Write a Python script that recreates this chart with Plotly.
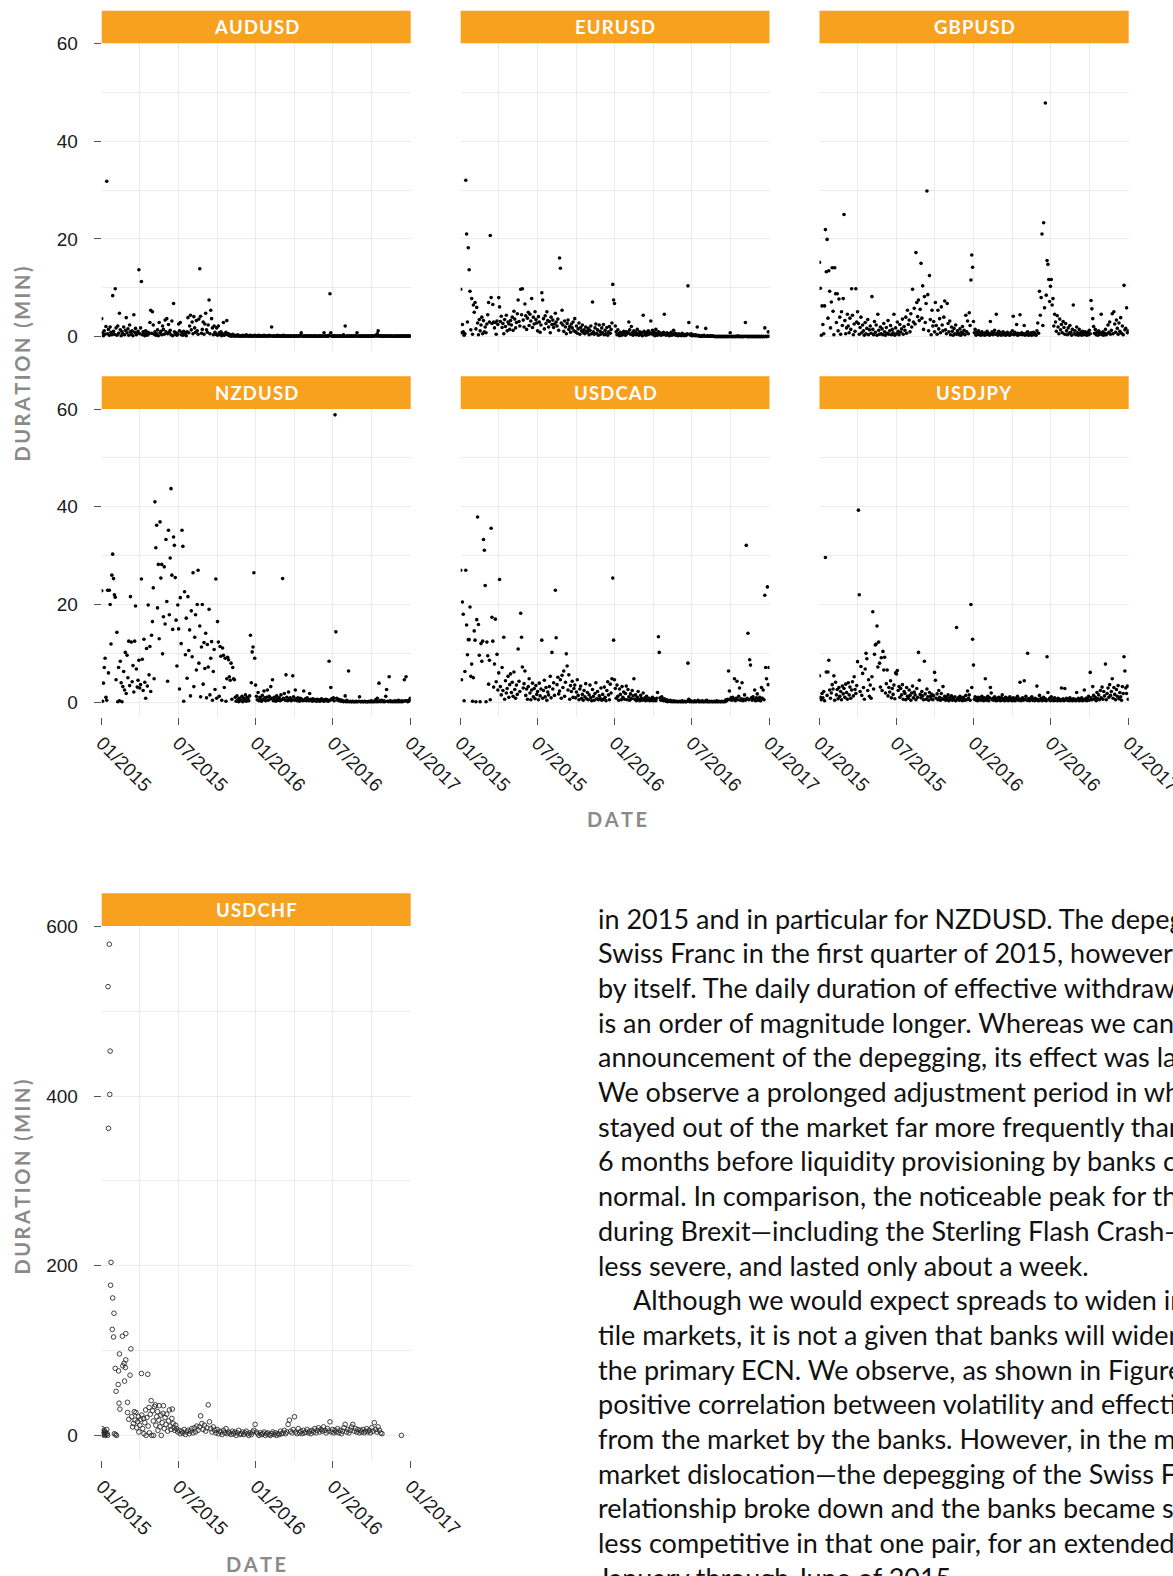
import datetime as dt
import plotly.graph_objects as go

W, H = 1173, 1576
START = dt.date(2015, 1, 1)
STEP_DAYS = 2  # one value every 2 days, from 2015-01-01

# ---------------- data (duration in minutes) ----------------
AUDUSD = [
    3.7, 0.8, 0.2, 1.2, 0.5, 2.1, 31.8, 0.6, 1.5, 0.3, 2.0, 0.9, 0.4, 8.4, 1.1,
    0.5, 9.8, 1.8, 0.3, 2.2, 0.7, 4.8, 1.4, 0.2, 1.0, 0.6, 2.0, 0.4, 1.3, 3.9,
    0.8, 1.6, 0.3, 2.4, 1.0, 0.5, 1.2, 0.2, 4.5, 0.9, 1.7, 0.4, 0.7, 1.1, 13.7,
    0.6, 1.8, 11.3, 0.4, 1.0, 0.5, 0.2, 1.2, 0.8, 0.3, 0.9, 0.6, 2.9, 5.4, 0.7,
    5.1, 2.4, 0.5, 1.0, 0.3, 0.6, 1.4, 0.2, 2.9, 0.8, 1.1, 0.4, 2.2, 1.5, 0.5,
    3.4, 1.0, 3.7, 0.6, 2.5, 0.9, 1.3, 0.4, 3.2, 0.2, 6.8, 1.0, 0.5, 0.8, 0.3,
    0.6, 2.6, 1.2, 2.9, 0.4, 0.9, 0.3, 1.1, 0.5, 0.7, 0.2, 1.0, 3.9, 0.8, 2.2,
    4.4, 1.4, 3.0, 0.6, 4.1, 1.8, 0.9, 3.3, 1.2, 0.5, 3.6, 13.9, 4.2, 0.7, 1.5,
    3.0, 0.5, 2.6, 4.8, 1.4, 0.9, 2.4, 7.5, 0.6, 5.4, 3.7, 1.8, 0.4, 2.2, 0.9,
    0.5, 1.8, 0.3, 2.2, 0.8, 0.4, 1.0, 0.2, 0.6, 2.9, 0.3, 0.5, 0.9, 3.3, 0.4,
    0.6, 0.2, 0.4, 0.1, 0.3, 0.5, 0.1, 0.2, 0.3, 0.1, 0.2, 0.4, 0.1, 0.2, 0.1,
    0.2, 0.1, 0.3, 0.1, 0.2, 0.1, 0.4, 0.2, 0.1, 0.2, 0.1, 0.3, 0.1, 0.2, 0.1,
    0.1, 0.3, 0.2, 0.1, 0.2, 0.1, 0.3, 0.1, 0.2, 0.1, 0.2, 0.1, 0.3, 0.1, 0.2,
    0.1, 0.2, 0.1, 0.3, 0.1, 0.2, 2.0, 0.1, 0.2, 0.1, 0.1, 0.2, 0.1, 0.3, 0.1,
    0.2, 0.1, 0.1, 0.2, 0.1, 0.3, 0.1, 0.1, 0.2, 0.1, 0.1, 0.2, 0.1, 0.1, 0.2,
    0.1, 0.1, 0.2, 0.1, 0.1, 0.2, 0.1, 0.1, 0.2, 0.1, 0.3, 0.8, 0.1, 0.1, 0.2,
    0.1, 0.2, 0.1, 0.1, 0.2, 0.1, 0.1, 0.2, 0.1, 0.1, 0.2, 0.1, 0.1, 0.2, 0.1,
    0.1, 0.1, 0.2, 0.1, 0.1, 0.2, 0.1, 0.1, 0.8, 0.2, 0.1, 0.1, 0.2, 0.1, 0.3,
    8.8, 0.8, 0.1, 0.2, 0.1, 0.1, 0.2, 0.1, 0.1, 0.2, 0.1, 0.1, 0.2, 0.1, 0.1,
    0.1, 0.4, 0.1, 2.2, 0.1, 0.2, 0.1, 0.1, 0.2, 0.1, 0.1, 0.2, 0.1, 0.1, 0.2,
    0.1, 0.2, 0.8, 0.1, 0.1, 0.2, 0.1, 0.1, 0.2, 0.1, 0.1, 0.2, 0.1, 0.1, 0.2,
    0.1, 0.1, 0.2, 0.1, 0.1, 0.2, 0.1, 0.1, 0.2, 0.3, 0.1, 0.6, 1.2, 0.1, 0.2,
    0.1, 0.2, 0.1, 0.1, 0.2, 0.1, 0.1, 0.2, 0.1, 0.1, 0.2, 0.1, 0.1, 0.2, 0.1,
    0.1, 0.1, 0.2, 0.1, 0.1, 0.2, 0.1, 0.1, 0.2, 0.1, 0.1, 0.2, 0.1, 0.1, 0.2,
    0.1, 0.2, 0.1, 0.1, 0.2, 0.1,
]

EURUSD = [
    9.7, 0.8, 2.5, 1.0, 0.3, 0.6, 32.0, 21.0, 3.0, 18.2, 13.7, 9.3, 1.4, 7.8, 0.5,
    6.5, 5.0, 7.0, 1.6, 6.0, 2.8, 0.4, 3.5, 1.2, 2.4, 4.0, 0.6, 3.3, 1.0, 2.0,
    0.8, 2.6, 4.5, 7.0, 3.0, 20.7, 8.0, 2.7, 6.6, 3.0, 1.8, 2.9, 0.5, 3.2, 2.5,
    8.0, 6.1, 3.1, 4.2, 1.9, 2.7, 0.6, 3.5, 2.1, 4.4, 1.2, 3.0, 2.6, 1.5, 3.3,
    2.4, 4.0, 1.3, 5.2, 3.6, 1.8, 2.9, 4.7, 7.5, 3.1, 2.2, 9.7, 4.5, 9.8, 3.4,
    2.0, 6.7, 4.3, 1.5, 3.8, 5.0, 2.3, 4.6, 3.2, 7.8, 1.9, 4.0, 2.6, 5.1, 3.5,
    2.8, 1.2, 4.1, 3.0, 0.9, 2.4, 9.0, 7.5, 3.7, 1.6, 4.3, 2.7, 5.1, 3.3, 2.0,
    3.1, 0.8, 4.0, 2.5, 3.4, 1.9, 2.6, 4.8, 3.0, 2.2, 3.6, 1.3, 16.1, 14.0, 2.8,
    5.4, 2.4, 1.1, 3.2, 2.0, 0.6, 2.7, 3.4, 1.5, 2.1, 0.9, 2.6, 1.8, 3.0, 1.2,
    3.7, 1.0, 2.2, 0.7, 1.6, 2.8, 0.5, 1.9, 1.2, 2.4, 0.8, 1.4, 0.6, 2.0, 1.1,
    0.9, 1.7, 0.4, 1.3, 2.2, 0.6, 7.1, 1.0, 0.5, 1.8, 2.6, 0.7, 1.4, 0.3, 2.4,
    1.1, 0.5, 1.8, 0.8, 2.5, 0.4, 1.3, 0.6, 1.9, 0.3, 1.0, 2.1, 0.7, 1.5, 2.8,
    10.7, 7.5, 6.8, 2.2, 1.0, 0.4, 1.4, 0.6, 0.2, 0.9, 0.3, 0.7, 0.4, 1.1, 0.5,
    0.3, 1.0, 0.6, 0.9, 3.0, 1.4, 0.5, 2.1, 0.8, 0.3, 1.2, 0.6, 0.9, 0.4, 1.5,
    0.7, 0.3, 1.0, 0.5, 0.8, 0.2, 4.4, 1.1, 0.6, 0.3, 0.9, 0.4, 1.2, 0.5, 0.8,
    3.2, 0.6, 1.3, 0.4, 0.9, 0.2, 1.5, 0.7, 0.3, 1.0, 0.5, 0.8, 0.3, 0.6, 0.4,
    0.9, 4.6, 0.5, 0.3, 0.8, 0.4, 0.6, 0.2, 0.5, 0.9, 0.3, 0.6, 1.3, 0.4, 0.7,
    0.3, 0.5, 0.2, 0.6, 0.3, 0.4, 0.2, 0.7, 0.3, 0.5, 0.2, 0.4, 0.3, 0.6, 10.4,
    2.9, 0.5, 0.3, 0.6, 0.2, 0.4, 0.3, 0.2, 0.4, 0.2, 2.0, 0.3, 0.1, 0.2, 0.1,
    0.1, 0.2, 0.1, 0.3, 0.1, 1.7, 0.1, 0.2, 0.1, 0.1, 0.2, 0.1, 0.1, 0.2, 0.1,
    0.1, 0.0, 0.1, 0.0, 0.1, 0.0, 0.1, 0.0, 0.1, 0.0, 0.1, 0.0, 0.1, 0.0, 0.1,
    0.0, 0.1, 0.0, 0.1, 0.8, 0.0, 0.1, 0.0, 0.1, 0.0, 0.1, 0.0, 0.1, 0.2, 0.0,
    0.1, 0.0, 0.1, 0.0, 0.1, 0.0, 0.1, 2.9, 0.1, 0.0, 0.1, 0.0, 0.1, 0.0, 0.1,
    0.0, 0.1, 0.0, 0.1, 0.0, 0.1, 0.0, 0.1, 0.0, 0.1, 0.0, 0.1, 0.0, 0.1, 0.0,
    1.8, 0.1, 0.0, 0.1, 1.0, 0.1,
]

GBPUSD = [
    15.2, 9.9, 0.3, 6.3, 2.5, 0.6, 6.3, 21.9, 13.3, 19.9, 3.8, 13.5, 9.3, 1.8, 7.1,
    14.1, 5.2, 0.4, 14.1, 8.8, 2.9, 8.8, 1.2, 7.7, 4.0, 0.5, 5.1, 2.3, 7.8, 25.0,
    3.3, 0.6, 1.8, 4.6, 2.2, 0.8, 3.8, 1.5, 9.8, 4.4, 0.4, 2.6, 1.1, 9.8, 3.0,
    5.1, 2.7, 0.5, 1.9, 4.0, 0.8, 2.4, 1.2, 0.3, 2.9, 0.6, 1.7, 3.5, 0.4, 1.4,
    2.2, 0.7, 8.2, 1.5, 0.4, 3.1, 0.9, 2.4, 0.3, 4.6, 1.3, 0.5, 2.0, 0.6, 1.6,
    0.4, 2.7, 1.0, 0.3, 1.9, 0.7, 3.3, 0.5, 1.2, 2.3, 0.4, 1.5, 0.8, 4.6, 0.3,
    1.8, 0.6, 3.0, 1.1, 0.4, 2.5, 0.9, 1.6, 3.6, 0.5, 2.1, 1.3, 4.0, 0.7, 5.4,
    2.5, 3.4, 1.0, 4.7, 2.0, 9.7, 3.0, 5.8, 2.6, 17.2, 7.0, 4.1, 7.5, 3.3, 5.6,
    15.0, 3.8, 10.4, 1.5, 8.2, 2.9, 6.8, 29.8, 8.6, 1.2, 12.5, 3.5, 0.4, 5.4, 2.2,
    3.1, 1.0, 7.0, 2.3, 0.5, 5.4, 1.6, 3.7, 0.8, 6.1, 2.4, 1.2, 4.0, 7.3, 1.4,
    0.6, 6.8, 2.7, 1.0, 3.2, 0.4, 2.0, 1.1, 0.3, 1.7, 0.6, 2.4, 0.5, 1.2, 0.8,
    0.4, 1.6, 0.3, 0.9, 2.1, 0.6, 1.3, 0.4, 4.4, 1.0, 3.2, 0.6, 4.9, 2.3, 11.6,
    16.7, 14.2, 3.1, 0.8, 1.5, 0.3, 0.9, 0.5, 1.2, 0.4, 0.7, 0.3, 1.0, 0.5, 0.6,
    0.3, 0.8, 0.4, 1.1, 0.5, 0.7, 0.3, 3.1, 0.6, 1.0, 0.4, 0.8, 1.3, 0.5, 4.6,
    0.7, 0.3, 1.1, 0.5, 0.8, 0.3, 0.6, 1.0, 0.4, 0.7, 0.3, 0.5, 0.9, 0.4, 0.6,
    0.3, 0.8, 0.5, 1.2, 4.2, 0.4, 0.9, 0.6, 2.5, 0.3, 0.7, 0.4, 4.5, 0.5, 0.8,
    0.4, 0.6, 2.3, 0.3, 0.7, 0.5, 1.0, 0.3, 0.6, 0.4, 0.8, 0.3, 0.5, 0.9, 0.4,
    0.6, 0.3, 1.2, 2.8, 0.7, 9.3, 4.4, 8.0, 21.0, 2.3, 23.3, 5.9, 47.8, 8.5, 15.6,
    14.8, 11.7, 7.2, 10.3, 11.7, 6.5, 7.8, 2.2, 4.6, 3.0, 1.1, 4.3, 2.0, 0.6, 3.6,
    1.4, 2.5, 0.8, 3.1, 1.9, 0.5, 2.7, 1.2, 0.4, 1.8, 0.7, 2.3, 0.9, 0.3, 1.5,
    6.5, 0.6, 1.2, 0.4, 2.0, 0.8, 0.3, 1.5, 0.5, 0.9, 0.3, 1.1, 0.6, 0.4, 1.0,
    0.5, 0.3, 0.9, 0.4, 1.3, 0.6, 7.4, 5.7, 3.7, 2.1, 0.7, 1.5, 0.4, 0.9, 0.3,
    1.2, 0.5, 0.8, 4.6, 0.4, 1.0, 0.3, 0.7, 1.5, 0.4, 0.6, 2.4, 0.9, 3.0, 0.5,
    1.3, 4.7, 0.6, 5.1, 2.6, 0.9, 3.4, 1.7, 0.5, 2.8, 1.1, 3.9, 0.7, 2.2, 0.4,
    10.5, 1.4, 1.7, 5.9, 0.8, 1.2,
]

NZDUSD = [
    22.8, 0.2, 3.9, 7.1, 9.0, 1.0, 0.4, 22.9, 6.0, 22.9, 20.0, 11.9, 26.0, 30.3, 25.3,
    22.0, 21.5, 4.6, 14.3, 0.1, 7.1, 0.3, 8.4, 4.0, 0.1, 3.2, 6.3, 2.5, 10.2, 1.8,
    9.6, 5.0, 12.5, 3.4, 21.6, 12.3, 4.2, 7.5, 2.1, 12.5, 19.7, 6.8, 3.1, 4.5, 8.6,
    2.9, 3.6, 25.2, 8.8, 2.4, 12.9, 4.1, 0.8, 11.0, 3.3, 19.9, 5.6, 11.4, 2.2, 13.7,
    16.5, 23.4, 4.8, 41.0, 31.6, 36.2, 19.3, 28.2, 13.0, 36.9, 25.4, 28.2, 9.9, 17.5, 27.7,
    16.0, 33.3, 20.6, 4.3, 35.2, 17.9, 29.5, 43.7, 26.0, 14.9, 33.8, 32.1, 25.5, 16.8, 7.4,
    19.9, 15.0, 2.7, 21.4, 12.0, 35.2, 31.9, 0.2, 22.6, 9.7, 17.2, 4.9, 21.6, 10.6, 14.8,
    1.3, 18.7, 9.3, 26.5, 3.2, 13.3, 17.9, 6.6, 20.0, 27.0, 8.0, 15.6, 1.1, 11.3, 20.0,
    3.7, 12.2, 6.9, 14.1, 0.9, 11.8, 7.2, 19.0, 1.5, 9.0, 12.4, 0.4, 6.3, 10.8, 2.6,
    25.2, 0.8, 16.5, 12.3, 1.2, 11.4, 9.4, 0.4, 11.1, 9.6, 3.0, 9.0, 0.2, 4.8, 9.2,
    8.7, 5.2, 4.5, 8.0, 0.6, 7.1, 4.8, 4.6, 1.0, 0.2, 1.3, 0.5, 0.1, 0.8, 0.3,
    0.4, 1.2, 0.1, 0.8, 0.5, 1.5, 0.2, 1.0, 0.7, 0.3, 1.3, 13.7, 4.0, 10.3, 11.3,
    26.5, 9.0, 3.5, 1.2, 0.5, 2.0, 0.3, 1.0, 0.8, 0.2, 1.4, 0.5, 2.3, 0.9, 0.3,
    1.0, 2.5, 0.4, 1.2, 0.6, 3.2, 0.8, 4.6, 0.3, 1.0, 0.5, 0.2, 1.3, 0.7, 0.4,
    0.9, 0.3, 1.5, 0.5, 25.3, 0.8, 1.8, 0.4, 5.6, 1.0, 0.3, 2.1, 0.6, 0.9, 0.3,
    0.5, 5.4, 1.1, 0.4, 2.5, 0.7, 0.3, 0.9, 0.5, 0.2, 0.8, 0.4, 0.6, 0.3, 2.3,
    0.4, 0.7, 0.3, 0.9, 0.5, 0.3, 1.8, 0.6, 0.4, 0.2, 0.7, 0.4, 0.3, 0.5, 0.2,
    0.6, 0.3, 0.5, 0.2, 0.4, 0.7, 0.3, 0.5, 0.2, 0.4, 0.6, 0.3, 0.5, 0.2, 8.4,
    0.4, 3.0, 0.7, 0.5, 0.9, 0.3, 58.8, 14.4, 0.8, 0.4, 0.6, 0.3, 0.5, 0.2, 0.4,
    0.3, 0.1, 0.2, 1.3, 0.1, 0.4, 0.1, 6.4, 0.1, 0.2, 0.1, 0.1, 0.2, 0.1, 0.1,
    0.1, 0.2, 0.1, 0.1, 0.2, 1.1, 0.1, 0.1, 0.2, 0.1, 0.1, 0.2, 0.1, 0.1, 0.1,
    0.1, 0.2, 0.1, 0.1, 0.3, 0.1, 0.1, 0.2, 0.1, 0.5, 0.1, 0.8, 0.1, 3.9, 0.3,
    0.1, 0.4, 0.2, 0.1, 0.3, 0.1, 1.2, 2.6, 0.2, 0.1, 5.2, 0.3, 0.1, 0.2, 0.1,
    0.2, 0.1, 0.3, 0.1, 0.2, 0.1, 0.4, 0.1, 0.2, 0.1, 0.3, 0.1, 0.2, 4.6, 0.3,
    5.2, 0.3, 0.1, 0.2, 0.4, 0.8,
]

USDCAD = [
    27.0, 4.6, 20.5, 18.0, 0.3, 6.3, 27.0, 15.8, 9.7, 12.8, 12.8, 19.5, 5.3, 7.8, 0.2,
    5.0, 14.6, 12.7, 0.1, 16.9, 37.9, 15.9, 9.6, 0.1, 12.0, 8.4, 12.5, 33.3, 31.1, 23.9,
    0.1, 12.3, 9.5, 3.7, 8.6, 0.5, 35.6, 17.4, 12.5, 3.1, 7.8, 17.0, 4.2, 9.8, 2.5,
    6.0, 25.1, 3.2, 1.5, 7.1, 2.4, 13.3, 0.6, 4.4, 1.9, 2.8, 5.3, 1.0, 3.6, 5.8,
    2.0, 4.1, 1.2, 6.2, 2.6, 0.8, 3.5, 1.6, 10.9, 4.3, 2.2, 18.2, 13.3, 7.2, 2.9,
    3.8, 6.4, 1.4, 2.7, 0.6, 3.2, 4.8, 1.9, 0.5, 2.5, 3.9, 1.1, 2.8, 0.7, 3.4,
    1.6, 2.2, 0.5, 3.9, 1.3, 2.7, 12.7, 0.8, 2.4, 4.5, 1.1, 3.0, 0.4, 2.1, 1.5,
    3.2, 5.3, 0.9, 10.2, 2.7, 4.0, 1.4, 22.9, 13.2, 3.6, 5.1, 1.7, 2.3, 4.6, 0.8,
    5.5, 3.0, 6.4, 1.2, 4.1, 9.9, 7.4, 2.5, 5.6, 0.6, 3.4, 2.2, 4.3, 1.0, 2.8,
    3.5, 0.9, 2.1, 4.6, 1.4, 0.5, 2.7, 3.3, 0.8, 1.6, 0.4, 2.4, 1.1, 3.8, 0.7,
    2.0, 0.5, 1.5, 3.5, 0.9, 0.3, 2.6, 1.2, 0.4, 1.8, 4.0, 0.7, 2.2, 0.5, 1.3,
    0.8, 2.9, 0.4, 1.6, 0.6, 3.1, 1.0, 0.3, 2.4, 4.2, 1.5, 0.5, 3.7, 1.9, 4.8,
    25.4, 12.7, 4.6, 2.8, 0.8, 3.5, 1.2, 0.4, 2.7, 1.6, 0.5, 3.2, 1.0, 2.1, 0.6,
    1.8, 3.3, 0.5, 2.6, 1.1, 0.4, 1.7, 0.7, 2.4, 1.3, 4.8, 0.6, 1.5, 0.3, 1.0,
    2.2, 0.6, 0.3, 1.4, 0.8, 0.4, 1.9, 0.5, 0.9, 0.3, 1.2, 0.6, 0.4, 0.8, 0.3,
    0.6, 0.4, 1.0, 0.3, 0.7, 0.5, 0.3, 0.8, 2.0, 13.4, 10.2, 0.9, 0.4, 1.1, 0.5,
    0.3, 0.7, 0.4, 0.2, 0.5, 0.1, 0.3, 0.2, 0.4, 0.1, 0.2, 0.1, 0.3, 0.1, 0.2,
    0.1, 0.2, 0.1, 0.1, 0.2, 0.1, 0.1, 0.3, 0.1, 0.1, 0.2, 0.1, 0.1, 0.2, 8.0,
    0.6, 0.1, 0.3, 0.1, 0.2, 0.1, 0.1, 0.3, 0.1, 0.1, 0.2, 0.4, 0.1, 0.1, 0.2,
    0.1, 0.3, 0.1, 0.1, 0.2, 0.1, 0.4, 0.1, 0.1, 0.2, 0.1, 0.1, 0.2, 0.1, 0.1,
    0.2, 0.1, 0.1, 0.3, 0.1, 0.1, 0.2, 0.1, 0.1, 0.2, 0.1, 0.1, 0.2, 0.1, 0.5,
    0.3, 0.6, 6.4, 2.3, 0.5, 0.9, 0.4, 1.0, 0.6, 4.8, 0.3, 0.8, 4.3, 0.5, 1.2,
    2.9, 0.4, 0.7, 4.0, 0.3, 0.6, 1.5, 0.4, 32.1, 0.8, 14.1, 0.5, 8.7, 7.6, 0.9,
    0.4, 1.1, 0.6, 2.5, 0.3, 0.9, 1.7, 0.4, 0.6, 1.0, 0.3, 3.0, 0.8, 2.5, 0.5,
    21.9, 7.1, 4.8, 23.6, 3.6, 7.1,
]

USDJPY = [
    5.4, 1.0, 0.5, 1.8, 0.9, 2.2, 0.3, 29.6, 6.2, 1.4, 6.2, 8.6, 2.5, 0.8, 1.9,
    3.6, 2.7, 5.4, 0.4, 4.1, 1.5, 2.6, 0.7, 3.0, 1.2, 2.2, 0.5, 3.3, 1.7, 2.8,
    1.0, 3.7, 2.0, 0.6, 4.0, 1.5, 3.1, 0.8, 2.5, 4.2, 1.3, 5.2, 2.6, 1.8, 3.4,
    8.3, 39.3, 22.0, 2.2, 7.3, 1.4, 5.9, 3.0, 0.6, 6.8, 10.0, 8.9, 2.4, 4.6, 1.2,
    3.5, 0.8, 5.2, 18.5, 2.7, 9.8, 11.7, 11.9, 15.6, 7.2, 12.3, 8.0, 3.1, 9.1, 2.4,
    10.4, 6.6, 9.2, 1.9, 3.8, 6.6, 1.3, 3.0, 2.1, 4.4, 0.9, 2.8, 1.6, 3.5, 0.7,
    6.0, 5.8, 6.5, 2.4, 3.2, 1.0, 2.8, 1.5, 3.6, 0.6, 2.2, 1.8, 0.5, 3.0, 1.2,
    0.8, 2.5, 1.4, 0.4, 1.9, 3.3, 0.9, 2.1, 1.5, 0.5, 2.8, 1.0, 10.2, 4.5, 1.6,
    0.9, 2.2, 1.3, 0.5, 8.4, 1.7, 0.6, 2.7, 1.1, 0.4, 2.0, 1.2, 0.7, 1.6, 0.5,
    1.3, 6.1, 4.5, 0.8, 1.7, 0.5, 2.4, 1.0, 0.4, 1.8, 0.7, 3.2, 0.6, 1.2, 0.4,
    1.0, 0.5, 1.5, 0.3, 0.9, 0.6, 1.3, 0.4, 0.8, 0.5, 1.1, 0.3, 15.3, 0.6, 0.9,
    0.4, 1.2, 0.5, 0.8, 0.3, 1.0, 0.6, 0.4, 1.4, 0.5, 2.3, 0.8, 1.5, 0.4, 20.0,
    3.0, 12.9, 7.6, 0.6, 1.1, 0.4, 0.8, 0.3, 1.0, 0.5, 0.7, 0.4, 1.2, 0.6, 0.3,
    0.9, 4.8, 0.4, 0.7, 1.2, 0.3, 0.9, 3.0, 1.9, 0.5, 0.8, 0.4, 1.1, 0.6, 0.3,
    0.8, 0.4, 1.0, 0.5, 0.3, 0.9, 1.5, 0.4, 0.7, 0.3, 1.0, 0.5, 0.8, 0.3, 0.6,
    1.1, 0.4, 0.7, 0.3, 0.9, 0.5, 0.3, 0.8, 0.5, 1.2, 0.4, 0.7, 4.1, 0.3, 0.6,
    0.9, 0.4, 4.4, 0.6, 1.2, 0.4, 10.0, 0.7, 0.3, 0.8, 0.5, 1.1, 0.4, 0.6, 0.3,
    0.8, 0.4, 3.3, 0.6, 0.3, 1.4, 0.5, 0.8, 0.3, 0.6, 1.0, 0.4, 0.7, 0.3, 9.3,
    2.0, 0.5, 0.8, 0.3, 1.1, 0.4, 0.6, 0.3, 0.9, 0.4, 0.5, 0.3, 0.8, 0.4, 0.6,
    0.3, 2.9, 0.5, 0.7, 0.3, 2.8, 0.5, 0.8, 0.4, 0.6, 0.3, 0.9, 0.4, 0.5, 0.3,
    0.7, 0.4, 0.6, 0.3, 2.0, 0.5, 0.8, 0.3, 0.6, 0.4, 0.9, 0.3, 0.5, 2.5, 0.4,
    0.8, 0.3, 0.6, 1.2, 0.4, 6.1, 0.9, 0.5, 3.2, 1.4, 0.6, 1.0, 0.3, 2.0, 0.7,
    1.5, 0.5, 2.4, 0.9, 3.1, 0.6, 2.2, 1.3, 7.8, 0.5, 1.8, 2.9, 1.0, 3.6, 1.4,
    2.2, 4.8, 0.8, 3.0, 1.6, 0.5, 2.6, 1.2, 3.4, 0.7, 2.0, 1.1, 0.4, 3.2, 1.8,
    9.3, 6.4, 2.9, 1.8, 3.3, 0.6,
]

# USDCHF: explicit days (offset from 2015-01-01) for the depeg period
CHF_EARLY_DAY = [0, 1, 2, 3, 5, 6, 7, 8, 9, 10, 12, 13, 14, 15, 16, 18, 19, 20,
                 21, 22, 25, 26, 28, 29, 30, 32, 33, 34, 35, 39, 40, 41, 42, 43,
                 49, 50, 53, 54, 56, 57, 57, 61, 61, 64, 67, 69, 71, 73,
                 75, 77, 79, 81, 83, 85, 87, 88, 90, 92, 94, 95, 97, 99, 100, 102,
                 104, 105, 107, 109, 110, 112, 113, 115, 117, 118, 120, 122, 123,
                 125, 127, 128, 130, 132, 133, 135, 136, 138, 140, 141, 143, 145,
                 146, 148, 150, 152, 154, 156, 158, 160, 162, 164, 166, 167, 169,
                 171, 173, 175]
CHF_EARLY_VAL = [3, 8, 1, 5, 2, 6, 0, 3, 4, 1, 7, 2, 0, 529, 362, 579, 402, 453,
                 177, 204, 125, 162, 116, 144, 2, 79, 1, 52, 0, 60, 76, 38, 96, 31,
                 117, 82, 85, 64, 80, 89, 120, 39, 27, 19, 71, 102, 22, 10,
                 14, 28, 18, 27, 9, 16, 22, 4, 12, 19, 73, 24, 8, 20, 2, 15,
                 30, 0, 21, 72, 11, 33, 3, 25, 41, 0, 29, 17, 0,
                 34, 36, 12, 22, 28, 6, 18, 35, 10, 24, 0, 15, 26,
                 35, 8, 21, 13, 25, 5, 17, 30, 11, 7, 20, 31, 14,
                 9, 6, 12]
CHF_LATE_START = 177
CHF_LATE_STEP = 3
CHF_LATE_VAL = [
    8, 4, 6, 2, 5, 3, 7, 1, 4, 6, 2, 5, 8, 3, 9, 4, 11, 6, 10, 23, 14,
    7, 12, 5, 9, 36, 16, 8, 4, 10, 6, 3, 7, 2, 5, 4, 1, 6, 3, 8, 2, 4,
    3, 1, 5, 2, 4, 0, 3, 6, 1, 2, 4, 1, 3, 5, 2, 0, 3, 1, 4, 6, 13,
    4, 2, 0, 3, 1, 2, 4, 0, 2, 3, 1, 0, 2, 4, 1, 3, 0, 2, 1, 5, 2,
    3, 6, 2, 4, 13, 18, 5, 3, 7, 22, 4, 2, 8, 3, 5, 2, 6, 3, 4, 7, 3,
    5, 2, 6, 4, 8, 3, 6, 9, 4, 7, 5, 10, 6, 3, 8, 5, 16, 4, 7, 3, 6,
    4, 8, 3, 6, 2, 5, 9, 13, 4, 7, 3, 6, 10, 13, 5, 8, 4, 7, 3, 6, 4,
    7, 3, 5, 8, 4, 6, 3, 9, 5, 15, 7, 4, 10, 6, 3, 2,
]
CHF_LAST_DAY = [709]
CHF_LAST_VAL = [0]

BODY_LINES = [
    "in 2015 and in particular for NZDUSD. The depegging of the",
    "Swiss Franc in the first quarter of 2015, however, stands",
    "by itself. The daily duration of effective withdrawal",
    "is an order of magnitude longer. Whereas we can",
    "announcement of the depegging, its effect was lasting.",
    "We observe a prolonged adjustment period in which",
    "stayed out of the market far more frequently than",
    "6 months before liquidity provisioning by banks came",
    "normal. In comparison, the noticeable peak for the",
    "during Brexit\u2014including the Sterling Flash Crash\u2014",
    "less severe, and lasted only about a week.",
    "Although we would expect spreads to widen in",
    "tile markets, it is not a given that banks will widen",
    "the primary ECN. We observe, as shown in Figure",
    "positive correlation between volatility and effective",
    "from the market by the banks. However, in the most",
    "market dislocation\u2014the depegging of the Swiss Franc",
    "relationship broke down and the banks became signi",
    "less competitive in that one pair, for an extended",
    "January through June of 2015.",
]

# ---------------- layout geometry (pixels) ----------------
COLS = [(101.7, 410.7), (460.7, 769.5), (819.5, 1128.7)]
ROWS = [(43.3, 351.0), (409.0, 716.5)]
STRIPS = [(10.7, 43.3), (376.3, 409.0)]
CHF_ROW = (926.0, 1460.0)
CHF_STRIP = (893.3, 926.0)

ORANGE = "#F8A11F"
GRID = "#EBEBEB"
TICKFONT = dict(family="Liberation Sans, Arial, sans-serif", size=19, color="#1a1a1a")
TITLEFONT = dict(family="Lato, sans-serif", size=20, color="#8a8a8a", weight="bold")
STRIPFONT = dict(family="Lato, sans-serif", size=18.5, color="white", weight="bold")


def fx(p):
    return p / W


def fy(p):
    return 1 - p / H


def spaced(s, sep="\u200a"):
    return sep.join(list(s))


def dates_from(start_day, step, n):
    return [START + dt.timedelta(days=start_day + step * i) for i in range(n)]


fig = go.Figure()
layout = {}
shapes = []
annotations = []

panels = [("AUDUSD", AUDUSD, 0, 0), ("EURUSD", EURUSD, 1, 0), ("GBPUSD", GBPUSD, 2, 0),
          ("NZDUSD", NZDUSD, 0, 1), ("USDCAD", USDCAD, 1, 1), ("USDJPY", USDJPY, 2, 1)]


def make_axes(idx, xdom, ydom, yrange, ydtick, yminor, show_x, show_y):
    xa = dict(
        domain=[fx(xdom[0]), fx(xdom[1])], anchor=f"y{idx}", type="date",
        range=["2015-01-01", "2017-01-01"], tick0="2015-01-01", dtick="M6",
        tickformat="%m/%Y", tickangle=45, showgrid=True, gridcolor=GRID, gridwidth=1,
        minor=dict(dtick="M3", tick0="2015-01-01", showgrid=True, gridcolor=GRID, gridwidth=1),
        zeroline=False, showline=False, tickfont=TICKFONT, automargin=False,
        ticklabeloverflow="allow",
        showticklabels=show_x, ticks="outside" if show_x else "",
        ticklen=7, tickcolor="#555555", tickwidth=1, ticklabelstandoff=0,
    )
    ya = dict(
        domain=[fy(ydom[1]), fy(ydom[0])], anchor=f"x{idx}", range=yrange,
        tick0=0, dtick=ydtick, showgrid=True, gridcolor=GRID, gridwidth=1,
        minor=dict(dtick=yminor, tick0=0, showgrid=True, gridcolor=GRID, gridwidth=1),
        zeroline=False, showline=False, tickfont=TICKFONT, automargin=False,
        showticklabels=show_y, ticks="outside" if show_y else "",
        ticklen=7, tickcolor="#555555", tickwidth=1, ticklabelstandoff=12,
    )
    key = "" if idx == 1 else str(idx)
    layout["xaxis" + key] = xa
    layout["yaxis" + key] = ya


def add_strip(label, xdom, sdom):
    shapes.append(dict(type="rect", xref="paper", yref="paper",
                       x0=fx(xdom[0]), x1=fx(xdom[1]), y0=fy(sdom[1]), y1=fy(sdom[0]),
                       fillcolor=ORANGE, line=dict(width=0), layer="above"))
    annotations.append(dict(text=spaced(label), xref="paper", yref="paper",
                            x=fx((xdom[0] + xdom[1]) / 2), y=fy((sdom[0] + sdom[1]) / 2),
                            xanchor="center", yanchor="middle", showarrow=False, font=STRIPFONT))


for i, (name, vals, c, r) in enumerate(panels, start=1):
    fig.add_trace(go.Scatter(
        x=dates_from(0, STEP_DAYS, len(vals)), y=vals, mode="markers",
        marker=dict(size=3.6, color="black", line=dict(width=0)),
        xaxis=f"x{i}", yaxis=f"y{i}", showlegend=False, hoverinfo="skip"))
    make_axes(i, COLS[c], ROWS[r], [-2.92, 60.0], 20, 10, show_x=(r == 1), show_y=(c == 0))
    add_strip(name, COLS[c], STRIPS[r])

# USDCHF panel
chf_x = ([START + dt.timedelta(days=d) for d in CHF_EARLY_DAY]
         + dates_from(CHF_LATE_START, CHF_LATE_STEP, len(CHF_LATE_VAL))
         + [START + dt.timedelta(days=d) for d in CHF_LAST_DAY])
chf_y = CHF_EARLY_VAL + CHF_LATE_VAL + CHF_LAST_VAL
fig.add_trace(go.Scatter(
    x=chf_x, y=chf_y, mode="markers",
    marker=dict(size=4.6, symbol="circle-open", color="#2a2a2a", line=dict(width=0.9, color="#2a2a2a")),
    xaxis="x7", yaxis="y7", showlegend=False, hoverinfo="skip"))
make_axes(7, COLS[0], CHF_ROW, [-29.0, 600.5], 200, 100, show_x=True, show_y=True)
add_strip("USDCHF", COLS[0], CHF_STRIP)

# axis titles
annotations.append(dict(text=spaced("DATE", "\u2009"), xref="paper", yref="paper",
                        x=fx(616.5), y=fy(819), xanchor="center", yanchor="middle",
                        showarrow=False, font=TITLEFONT))
annotations.append(dict(text=spaced("DATE", "\u2009"), xref="paper", yref="paper",
                        x=fx(256.2), y=fy(1564), xanchor="center", yanchor="middle",
                        showarrow=False, font=TITLEFONT))
annotations.append(dict(text=spaced("DURATION (MIN)", "\u2009"), xref="paper", yref="paper",
                        x=fx(21.5), y=fy(364), xanchor="center", yanchor="middle",
                        textangle=-90, showarrow=False, font=TITLEFONT))
annotations.append(dict(text=spaced("DURATION (MIN)", "\u2009"), xref="paper", yref="paper",
                        x=fx(21.5), y=fy(1177), xanchor="center", yanchor="middle",
                        textangle=-90, showarrow=False, font=TITLEFONT))

# body text
BODY_FONT = dict(family="Lato, sans-serif", size=27, color="#111111")
for k, line in enumerate(BODY_LINES):
    x0 = 631.0 if k == 11 else 596.0
    annotations.append(dict(text=line, xref="paper", yref="paper",
                            x=fx(x0), y=fy(918.0 + 34.7 * k), xanchor="left", yanchor="middle",
                            showarrow=False, font=BODY_FONT, align="left"))

fig.update_layout(
    width=W, height=H, margin=dict(l=0, r=0, t=0, b=0, autoexpand=False),
    paper_bgcolor="white", plot_bgcolor="white",
    shapes=shapes, annotations=annotations, **layout,
)

fig.write_html("out.html", config={"displayModeBar": False},
               post_script="document.body.style.margin='0';")
